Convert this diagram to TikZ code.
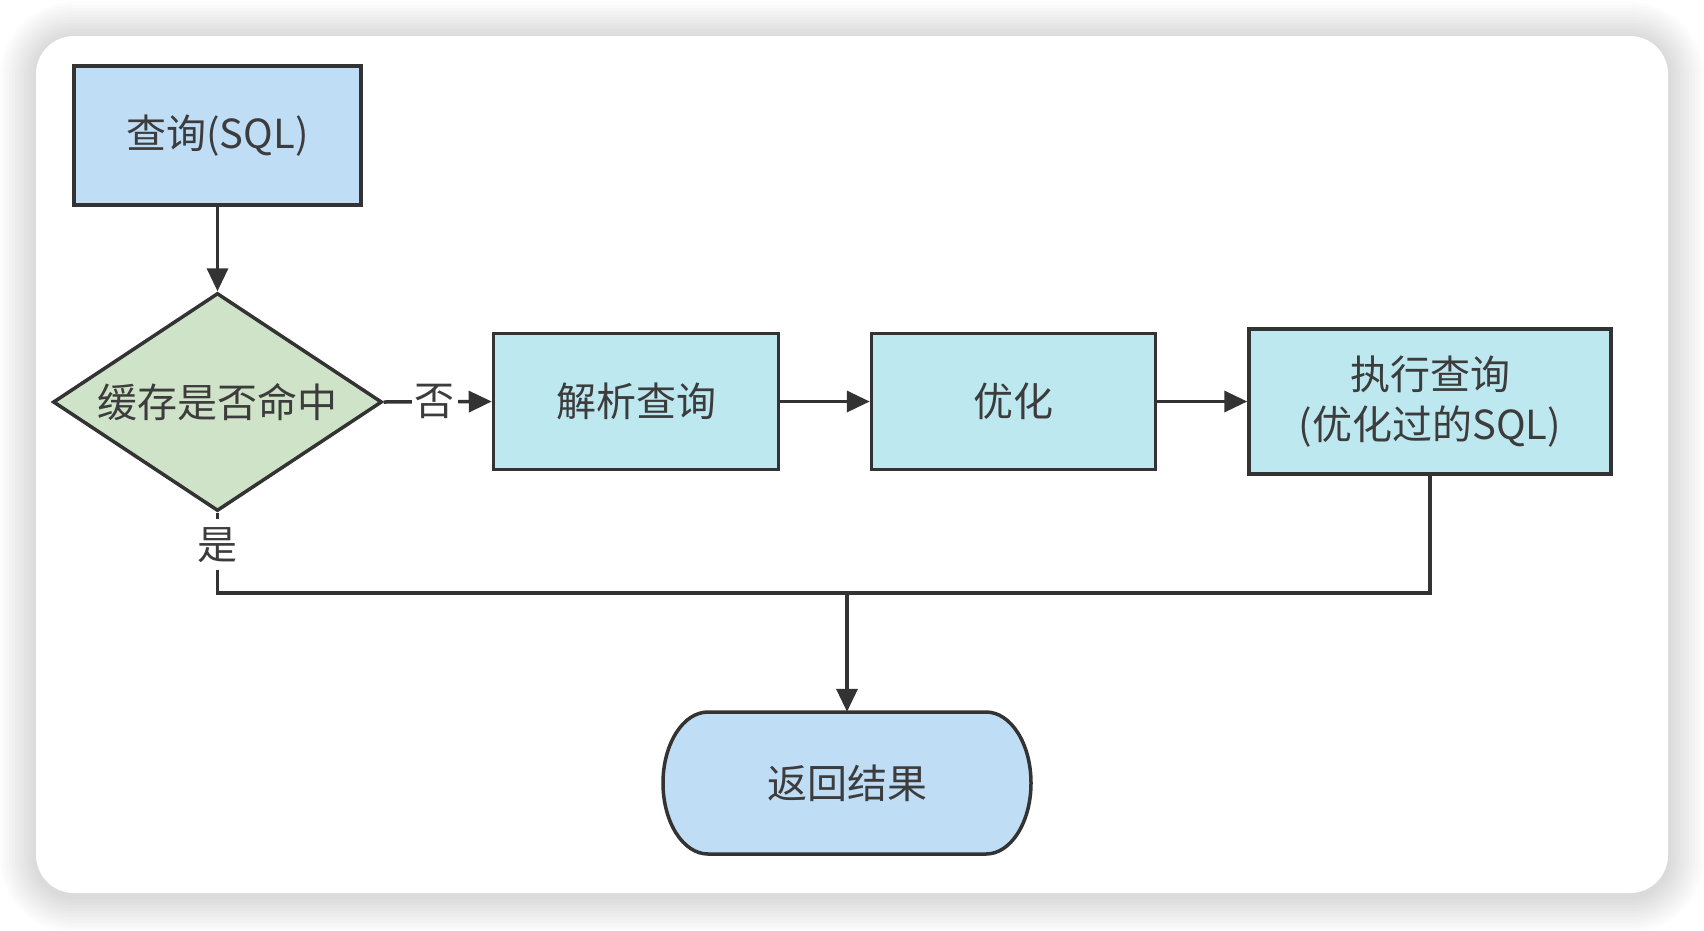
\documentclass[tikz,border=0pt]{standalone}
\usepackage{fontspec}
\newfontfamily\cjk{Noto Sans CJK SC}
\usetikzlibrary{shapes.geometric,arrows.meta,calc}
\definecolor{strokec}{HTML}{333333}
\definecolor{txt}{HTML}{3C3C3C}
\definecolor{blueA}{HTML}{C0DDF6}
\definecolor{cyanA}{HTML}{BDE8EF}
\definecolor{greenA}{HTML}{CFE3C9}
\begin{document}
\begin{tikzpicture}[x=1pt,y=-1pt,
  every node/.style={font=\cjk\fontsize{40}{50}\selectfont, text=txt},
  box/.style={draw=strokec, line width=3.5pt, rectangle, inner sep=0pt, align=center},
  arr/.style={draw=strokec, line width=3.5pt, -{Triangle[length=23pt,width=21pt]}},
  conn/.style={draw=strokec, line width=3.5pt},
  lbl/.style={fill=white, inner xsep=3pt, inner ysep=8pt}]
\useasboundingbox (0,0) rectangle (1704,930);
\fill[white] (0,0) rectangle (1704,930);
% soft shadow of card
\foreach \i [evaluate=\i as \r using 38+3*\i, evaluate=\i as \o using 3*\i] in {1,...,12}
  \fill[black, opacity=0.012, rounded corners=\r pt] (36-\o,38-\o) rectangle (1668+\o,896+\o);
\fill[white, rounded corners=38pt] (36,36) rectangle (1668,893);

% nodes
\node[box, fill=blueA, minimum width=287pt, minimum height=139pt] (q) at (217.5,135.5) {查询(SQL)};
\node[diamond, draw=strokec, fill=greenA, line width=3.5pt, inner sep=0pt, shape aspect=1.5,
      minimum width=329pt, minimum height=218pt] (d) at (217.5,402) {缓存是否命中};
\node[box, fill=cyanA, minimum width=285pt, minimum height=136pt] (p) at (636,401.5) {解析查询};
\node[box, fill=cyanA, minimum width=284pt, minimum height=136pt] (o) at (1013.5,401.5) {优化};
\node[box, fill=cyanA, minimum width=362pt, minimum height=145pt] (e) at (1430,401.5) {执行查询\\(优化过的SQL)};
% terminal shape
\draw[draw=strokec, fill=blueA, line width=3.5pt]
  (708,712) -- (986,712) arc[start angle=90, end angle=-90, x radius=45pt, y radius=71pt]
  -- (708,854) arc[start angle=270, end angle=90, x radius=45pt, y radius=71pt] -- cycle;
\node[minimum width=368pt, minimum height=142pt, inner sep=0pt] (r) at (847,783) {返回结果};
\coordinate (j) at (847,593);

% connectors
\draw[arr] (q.south) -- (d.north);
\draw[arr] (d.east) -- node[lbl, pos=0.47] {否} (p.west);
\draw[arr] (p.east) -- (o.west);
\draw[arr] (o.east) -- (e.west);
\draw[conn] (d.south) |- node[lbl, pos=0.2] {是} (j);
\draw[conn] (e.south) |- (j);
\draw[arr] (j) -- (r.north);
\end{tikzpicture}
\end{document}
